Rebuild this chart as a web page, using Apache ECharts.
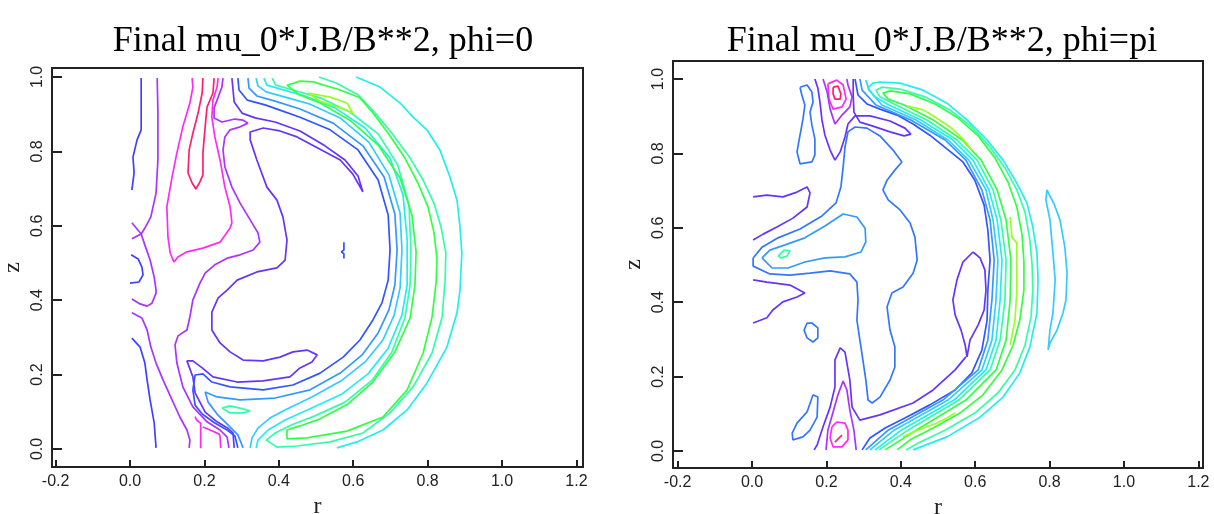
<!DOCTYPE html>
<html><head><meta charset="utf-8">
<script src="https://cdn.jsdelivr.net/npm/echarts@6/dist/echarts.min.js"></script>
<style>html,body{margin:0;padding:0;background:#fff}#c{width:1214px;height:514px}</style>
</head><body><div id="c"></div>
<script>
const TITLE_LEFT = "Final mu_0*J.B/B**2, phi=0";
const TITLE_RIGHT = "Final mu_0*J.B/B**2, phi=pi";
const rTicks = [-0.2, 0.0, 0.2, 0.4, 0.6, 0.8, 1.0, 1.2];
const zTicks = [0.0, 0.2, 0.4, 0.6, 0.8, 1.0];

// ---- phi = 0 contours (r, z) ----
const A_blueTop = [[.030,.997],[.030,.858],[.019,.831],[.008,.785],[.011,.742],[.005,.696]];
const A_purpleLeft = [[.073,.997],[.075,.911],[.075,.777],[.070,.688],[.056,.624],[.040,.594],[.030,.578],[.040,.548],[.054,.508],[.065,.462],[.070,.427],[.070,.419],[.059,.392],[.046,.384],[.027,.390],[.005,.403]];
const A_purpleSaddle = [[.005,.608],[.030,.578],[.005,.565]];
const A_blueCap = [[.003,.522],[.022,.511],[.032,.489],[.035,.468],[.024,.449],[.000,.446]];
const A_purpleLow = [[.005,.366],[.032,.352],[.046,.320],[.056,.274],[.070,.231],[.089,.185],[.113,.132],[.134,.086],[.153,.051],[.161,.024],[.159,.003]];
const A_blueLow = [[.005,.298],[.027,.274],[.040,.231],[.046,.185],[.054,.132],[.065,.070],[.070,.003]];
const A_red = [[.196,.997],[.194,.957],[.183,.903],[.169,.849],[.159,.804],[.156,.742],[.167,.715],[.177,.699],[.188,.718],[.196,.737],[.196,.796],[.202,.866],[.207,.919],[.223,.957],[.226,.997]];
const A_magenta = [[.167,.997],[.169,.973],[.161,.930],[.142,.866],[.126,.796],[.113,.731],[.099,.651],[.102,.570],[.108,.527],[.118,.503],[.129,.516],[.153,.530],[.196,.540],[.242,.556],[.269,.594],[.274,.608],[.269,.651],[.255,.704],[.242,.777],[.228,.839],[.220,.892],[.223,.938],[.234,.973],[.237,.997]];
const A_purple = [[.250,.997],[.247,.973],[.237,.946],[.226,.917],[.226,.890],[.247,.879],[.282,.887],[.304,.884],[.317,.876],[.296,.866],[.269,.858],[.255,.839],[.250,.804],[.255,.758],[.274,.704],[.296,.661],[.323,.616],[.344,.581],[.349,.556],[.331,.535],[.296,.522],[.261,.513],[.228,.495],[.202,.473],[.188,.446],[.169,.401],[.161,.355],[.153,.320],[.129,.304],[.121,.280],[.126,.231],[.142,.167],[.169,.113],[.207,.073],[.242,.051],[.261,.032],[.266,.003]];
const A_magSmall1 = [[.175,.087],[.179,.078],[.190,.069],[.190,.002]];
const A_magSmall2 = [[.196,.059],[.215,.051],[.240,.040],[.242,.033],[.244,.003]];
const A_violet = [[.280,.003],[.277,.043],[.263,.056],[.234,.073],[.202,.099],[.175,.151],[.169,.194],[.153,.237],[.169,.237],[.194,.218],[.223,.194],[.288,.180],[.358,.183],[.430,.194],[.457,.218],[.489,.234],[.503,.253],[.476,.266],[.438,.261],[.403,.247],[.358,.237],[.304,.239],[.269,.261],[.242,.285],[.220,.320],[.220,.368],[.237,.406],[.261,.427],[.288,.454],[.341,.476],[.395,.487],[.417,.508],[.422,.562],[.411,.624],[.395,.669],[.368,.704],[.341,.777],[.323,.831],[.323,.852],[.358,.863],[.403,.855],[.449,.839],[.511,.806],[.565,.777],[.599,.739],[.626,.691],[.613,.734],[.578,.777],[.524,.815],[.457,.855],[.390,.879],[.336,.890],[.301,.903],[.280,.933],[.277,.965],[.274,.997]];
const A_blue = [[.290,.997],[.293,.965],[.315,.938],[.363,.925],[.403,.911],[.457,.892],[.538,.858],[.613,.804],[.667,.723],[.694,.629],[.699,.535],[.694,.454],[.677,.392],[.653,.347],[.618,.293],[.573,.247],[.511,.204],[.438,.172],[.358,.159],[.269,.167],[.220,.180],[.196,.202],[.175,.199],[.169,.159],[.175,.118],[.194,.094],[.228,.070],[.261,.051],[.282,.035],[.290,.003]];
const A_lightblue = [[.317,.997],[.320,.970],[.341,.949],[.390,.935],[.457,.914],[.546,.876],[.626,.815],[.683,.731],[.712,.632],[.718,.535],[.712,.441],[.696,.374],[.667,.312],[.624,.253],[.565,.204],[.484,.159],[.390,.137],[.296,.132],[.234,.140],[.202,.153],[.210,.126],[.234,.094],[.266,.062],[.290,.038],[.304,.003]];
const A_sky = [[.339,.997],[.344,.976],[.366,.960],[.417,.946],[.484,.927],[.565,.890],[.642,.825],[.696,.737],[.726,.634],[.731,.535],[.726,.433],[.710,.360],[.680,.293],[.632,.234],[.570,.185],[.489,.140],[.417,.105],[.376,.083],[.344,.056],[.328,.030],[.323,.003]];
const A_cyan = [[.360,.997],[.368,.978],[.403,.968],[.470,.949],[.551,.917],[.632,.863],[.699,.782],[.734,.683],[.745,.562],[.745,.441],[.731,.360],[.694,.271],[.640,.202],[.570,.148],[.484,.108],[.417,.078],[.371,.051],[.344,.024],[.339,.003]];
const A_aqua = [[.382,.997],[.392,.978],[.438,.965],[.511,.944],[.591,.906],[.667,.847],[.720,.763],[.750,.656],[.755,.535],[.753,.441],[.739,.352],[.704,.261],[.651,.185],[.578,.126],[.497,.089],[.435,.065],[.390,.043],[.366,.024],[.395,.005],[.449,.008],[.538,.019],[.626,.043],[.699,.097],[.761,.167],[.812,.258],[.839,.355],[.847,.454],[.849,.527],[.836,.597],[.817,.661],[.788,.723],[.753,.782],[.704,.849],[.659,.903],[.613,.952],[.554,.984],[.508,1.000]];
const A_green = [[.422,.978],[.452,.954],[.511,.930],[.591,.884],[.667,.817],[.726,.728],[.758,.629],[.769,.530],[.766,.441],[.753,.352],[.712,.261],[.653,.180],[.586,.121],[.511,.081],[.457,.062],[.422,.051],[.422,.027],[.476,.030],[.583,.048],[.680,.086],[.745,.159],[.788,.258],[.812,.355],[.823,.449],[.825,.513],[.817,.583],[.801,.651],[.774,.715],[.739,.782],[.694,.849],[.651,.906],[.618,.944],[.565,.965],[.492,.987],[.457,.989],[.422,.978]];
const A_cyanOuter = [[.608,1.000],[.672,.973],[.726,.930],[.761,.892],[.798,.858],[.833,.804],[.860,.731],[.879,.669],[.887,.597],[.892,.527],[.887,.427],[.879,.366],[.852,.274],[.798,.177],[.745,.105],[.680,.051],[.610,.019],[.556,.003]];
const A_lime = [[.478,.957],[.538,.946],[.583,.930],[.599,.903],[.565,.917],[.511,.935],[.478,.957]];
const A_cyanSmall = [[.247,.110],[.269,.116],[.304,.108],[.323,.102],[.304,.097],[.269,.097],[.247,.110]];
const A_blueTick = [[.575,.556],[.575,.535],[.568,.530],[.575,.525],[.575,.512]];

// ---- phi = pi contours (r, z) ----
const B_blueLoopTop = [[.129,.978],[.148,.984],[.161,.965],[.164,.938],[.156,.911],[.161,.876],[.169,.839],[.169,.796],[.161,.777],[.129,.772],[.121,.804],[.129,.849],[.137,.892],[.142,.930],[.134,.957],[.129,.978]];
const B_redTop = [[.218,.978],[.231,.981],[.239,.960],[.237,.946],[.223,.946],[.218,.960],[.218,.978]];
const B_magTop = [[.204,.987],[.228,.997],[.245,.984],[.253,.946],[.242,.925],[.218,.919],[.207,.946],[.204,.987]];
const B_purpleTop = [[.191,1.000],[.202,.965],[.210,.919],[.223,.879],[.242,.903],[.263,.925],[.269,.952],[.258,.984],[.255,1.000]];
const B_violetTop = [[.169,1.000],[.177,.976],[.183,.935],[.188,.890],[.196,.849],[.210,.809],[.223,.782],[.237,.804],[.250,.844],[.258,.879],[.277,.901],[.317,.901],[.371,.887],[.411,.868],[.427,.852],[.409,.847],[.371,.858],[.323,.874],[.290,.884],[.274,.911],[.272,.957],[.272,1.000]];
const B_blue = [[.277,1.000],[.285,.957],[.309,.933],[.344,.919],[.390,.903],[.433,.879],[.478,.849],[.524,.812],[.567,.777],[.599,.728],[.624,.661],[.634,.594],[.640,.513],[.634,.433],[.632,.352],[.618,.271],[.591,.210],[.546,.164],[.478,.124],[.411,.089],[.358,.062],[.317,.035],[.296,.003]];
const B_lightblue = [[.306,.003],[.366,.056],[.513,.137],[.608,.218],[.634,.298],[.645,.406],[.651,.513],[.640,.621],[.618,.702],[.575,.782],[.519,.836],[.427,.890],[.333,.930],[.296,.970],[.290,1.000]];
const B_sky = [[.317,.003],[.382,.056],[.527,.137],[.618,.218],[.645,.298],[.656,.406],[.661,.513],[.648,.621],[.629,.702],[.583,.782],[.527,.836],[.441,.890],[.349,.930],[.315,.970],[.306,.997]];
const B_cyan = [[.331,.003],[.401,.056],[.543,.137],[.629,.218],[.656,.298],[.667,.406],[.672,.513],[.659,.621],[.637,.702],[.594,.782],[.540,.836],[.454,.890],[.368,.930],[.328,.954],[.312,.976],[.325,.989],[.344,.992],[.398,.989],[.460,.970],[.524,.935],[.578,.890],[.632,.836],[.675,.782],[.712,.720],[.739,.667],[.755,.602],[.766,.532],[.769,.460],[.766,.371],[.747,.280],[.720,.210],[.675,.145],[.613,.091],[.524,.038],[.433,.003]];
const B_aqua = [[.341,.003],[.419,.056],[.556,.137],[.640,.218],[.667,.298],[.680,.406],[.683,.513],[.669,.621],[.648,.702],[.605,.782],[.551,.836],[.470,.890],[.387,.930],[.344,.952],[.333,.970],[.349,.978],[.398,.973],[.465,.952],[.532,.917],[.591,.871],[.640,.817],[.680,.761],[.712,.702],[.734,.642],[.747,.567],[.753,.500],[.755,.433],[.750,.360],[.734,.285],[.707,.218],[.661,.156],[.599,.102],[.519,.056],[.452,.024],[.414,.003]];
const B_green = [[.358,.003],[.441,.056],[.575,.137],[.656,.218],[.683,.298],[.694,.406],[.696,.513],[.683,.621],[.659,.702],[.616,.782],[.565,.836],[.487,.890],[.409,.930],[.366,.946],[.352,.962],[.371,.968],[.425,.960],[.492,.933],[.554,.895],[.608,.847],[.653,.788],[.688,.723],[.712,.656],[.726,.581],[.731,.508],[.731,.433],[.720,.352],[.702,.285],[.672,.218],[.621,.151],[.559,.102],[.487,.062],[.425,.030],[.390,.003]];
const B_limeTop = [[.417,.927],[.460,.917],[.492,.898],[.532,.871],[.565,.841],[.591,.809]];
const B_limeMid = [[.694,.629],[.699,.575],[.712,.559],[.712,.433],[.707,.352],[.694,.285]];
const B_limeLow = [[.546,.102],[.524,.089],[.497,.075],[.470,.065],[.433,.051],[.406,.038]];
const B_violetOval = [[.594,.535],[.613,.519],[.626,.487],[.629,.433],[.624,.379],[.608,.339],[.586,.298],[.578,.253],[.573,.285],[.562,.325],[.546,.366],[.540,.406],[.551,.460],[.567,.508],[.594,.535]];
const B_violetLow = [[.167,.003],[.175,.016],[.191,.065],[.210,.118],[.223,.172],[.223,.245],[.237,.277],[.250,.266],[.263,.191],[.269,.118],[.290,.083],[.344,.097],[.433,.129],[.487,.164],[.546,.218],[.575,.253]];
const B_blueBig = [[.003,.519],[.027,.548],[.070,.573],[.129,.597],[.188,.632],[.226,.667],[.239,.710],[.245,.763],[.250,.817],[.258,.858],[.277,.871],[.309,.868],[.344,.847],[.379,.809],[.403,.777],[.384,.755],[.363,.728],[.352,.702],[.366,.675],[.398,.648],[.425,.613],[.438,.575],[.444,.513],[.433,.478],[.406,.441],[.376,.425],[.363,.387],[.371,.325],[.384,.280],[.384,.226],[.371,.191],[.344,.145],[.323,.129],[.312,.137],[.306,.191],[.298,.245],[.290,.298],[.282,.352],[.285,.406],[.282,.454],[.263,.476],[.210,.484],[.156,.478],[.102,.473],[.048,.476],[.003,.497],[.003,.519]];
const B_lightblueLoop = [[.027,.519],[.048,.540],[.089,.554],[.142,.573],[.196,.605],[.245,.637],[.282,.629],[.304,.599],[.306,.562],[.293,.535],[.250,.522],[.196,.519],[.142,.508],[.097,.492],[.054,.492],[.027,.519]];
const B_cyanTiny = [[.070,.524],[.086,.540],[.102,.538],[.094,.524],[.078,.519],[.070,.524]];
const B_violetTongueHi = [[.003,.683],[.040,.688],[.083,.683],[.121,.696],[.148,.710],[.156,.694],[.148,.656],[.110,.626],[.067,.602],[.030,.583],[.003,.567]];
const B_violetTongueLo = [[.003,.460],[.040,.454],[.102,.446],[.142,.425],[.121,.414],[.083,.401],[.056,.379],[.040,.358],[.003,.344]];
const B_blueSmall = [[.148,.344],[.161,.344],[.177,.331],[.177,.304],[.164,.293],[.148,.304],[.140,.325],[.148,.344]];
const B_blueLowLoop = [[.164,.151],[.177,.145],[.175,.091],[.156,.056],[.137,.038],[.110,.030],[.108,.048],[.121,.075],[.148,.105],[.164,.151]];
const B_purpleLow = [[.199,.003],[.204,.056],[.218,.105],[.231,.151],[.245,.188],[.255,.164],[.263,.110],[.274,.056],[.280,.003]];
const B_magLow = [[.215,.065],[.228,.078],[.250,.075],[.258,.056],[.258,.030],[.242,.011],[.218,.011],[.210,.035],[.215,.065]];
const B_redLow = [[.223,.024],[.242,.043]];
const B_farArc = [[.793,.702],[.798,.691],[.812,.664],[.828,.621],[.841,.548],[.847,.478],[.844,.406],[.836,.371],[.820,.325],[.801,.290],[.796,.272],[.801,.325],[.809,.371],[.815,.460],[.809,.532],[.801,.621],[.790,.675],[.793,.702]];

const C = {
  red:'#ff1f6f', magenta:'#ff2bf0', purple:'#aa33ff', violet:'#6633ff', blueV:'#4040ff',
  blue:'#3355ff', blueL:'#3377ff', lightblue:'#3399ff', sky:'#33ccff', cyan:'#22eeee',
  aqua:'#33ffaa', green:'#33ff44', lime:'#99ff22'
};

const leftLines = [
  [A_blueTop,C.blueV],[A_purpleLeft,C.purple],[A_purpleSaddle,C.purple],[A_blueCap,C.blueV],
  [A_purpleLow,C.purple],[A_blueLow,C.blueV],[A_red,C.red],[A_magenta,C.magenta],[A_purple,C.purple],
  [A_magSmall1,C.magenta],[A_magSmall2,C.magenta],[A_violet,C.violet],[A_blue,C.blue],
  [A_lightblue,C.lightblue],[A_sky,C.sky],[A_cyan,C.cyan],[A_aqua,C.aqua],[A_green,C.green],
  [A_cyanOuter,C.cyan],[A_lime,C.lime],[A_cyanSmall,C.aqua],[A_blueTick,C.blue]
];
const rightLines = [
  [B_blueLoopTop,C.blueL],[B_redTop,C.red],[B_magTop,C.magenta],[B_purpleTop,C.purple],[B_violetTop,C.violet],
  [B_blue,C.blue],[B_lightblue,C.lightblue],[B_sky,C.sky],[B_cyan,C.cyan],[B_aqua,C.aqua],[B_green,C.green],
  [B_limeTop,C.lime],[B_limeMid,C.lime],[B_limeLow,C.lime],[B_violetOval,C.violet],[B_violetLow,C.violet],
  [B_blueBig,C.blueL],[B_lightblueLoop,C.lightblue],[B_cyanTiny,C.aqua],[B_violetTongueHi,C.violet],
  [B_violetTongueLo,C.violet],[B_blueSmall,C.blueL],[B_blueLowLoop,C.blueL],[B_purpleLow,C.purple],
  [B_magLow,C.magenta],[B_redLow,C.red],[B_farArc,C.sky]
];

const AX = '#222';
const labelFont = {fontFamily:'Liberation Sans', fontSize:16, color:AX};
function xAx(gi, min, max){
  return {type:'value', gridIndex:gi, min:min, max:max,
    axisLine:{show:true, onZero:false, lineStyle:{color:AX, width:2}},
    axisTick:{show:true, inside:true, length:7, customValues:rTicks, lineStyle:{color:AX, width:2}},
    axisLabel:Object.assign({customValues:rTicks, margin:7, formatter:v=>v.toFixed(1)}, labelFont),
    splitLine:{show:false}, name:'r', nameLocation:'middle', nameGap:24,
    nameTextStyle:{fontFamily:'Liberation Serif', fontSize:24, color:AX}};
}
function yAx(gi, min, max){
  return {type:'value', gridIndex:gi, min:min, max:max,
    axisLine:{show:true, onZero:false, lineStyle:{color:AX, width:2}},
    axisTick:{show:true, inside:true, length:10, customValues:zTicks, lineStyle:{color:AX, width:2}},
    axisLabel:Object.assign({customValues:zTicks, margin:6, rotate:90, formatter:v=>v.toFixed(1)}, labelFont),
    splitLine:{show:false}, name:'z', nameLocation:'middle', nameGap:27, nameRotate:90,
    nameTextStyle:{fontFamily:'Liberation Serif', fontSize:24, color:AX}};
}
const series = [];
leftLines.forEach(([d,c])=>series.push({type:'line', xAxisIndex:0, yAxisIndex:0, data:d, symbol:'none', smooth:false, silent:true, lineStyle:{color:c, width:1.7}, itemStyle:{color:c}}));
rightLines.forEach(([d,c])=>series.push({type:'line', xAxisIndex:1, yAxisIndex:1, data:d, symbol:'none', smooth:false, silent:true, lineStyle:{color:c, width:1.7}, itemStyle:{color:c}}));

const chart = echarts.init(document.getElementById('c'), null, {renderer:'canvas'});
chart.setOption({
  animation:false, backgroundColor:'#fff',
  title:[
    {text:TITLE_LEFT, left:318, top:19, textAlign:'center', textStyle:{fontFamily:'Liberation Serif', fontSize:36, fontWeight:'normal', color:'#000'}},
    {text:TITLE_RIGHT, left:937, top:19, textAlign:'center', textStyle:{fontFamily:'Liberation Serif', fontSize:36, fontWeight:'normal', color:'#000'}}
  ],
  grid:[
    {left:52, top:68, width:531, height:399, show:true, borderColor:AX, borderWidth:2, backgroundColor:'transparent', containLabel:false, outerBoundsMode:'none'},
    {left:673, top:61, width:530, height:407, show:true, borderColor:AX, borderWidth:2, backgroundColor:'transparent', containLabel:false, outerBoundsMode:'none'}
  ],
  xAxis:[xAx(0,-0.2097,1.2177), xAx(1,-0.2124,1.2124)],
  yAxis:[yAx(0,-0.0484,1.0242), yAx(1,-0.0457,1.0484)],
  series:series
});
</script></body></html>
